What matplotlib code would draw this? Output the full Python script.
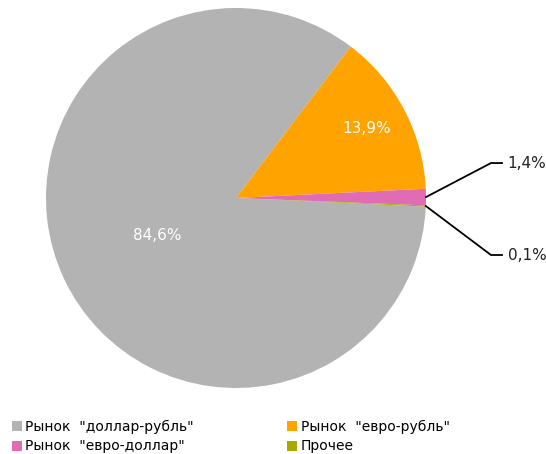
import matplotlib.pyplot as plt
import numpy as np
from matplotlib.lines import Line2D

labels = ['Рынок  "доллар-рубль"', 'Рынок  "евро-рубль"',
          'Рынок  "евро-доллар"', 'Прочее']
shares = [84.6, 13.9, 1.4, 0.1]
pct_text = ['84,6%', '13,9%', '1,4%', '0,1%']
colors = ['#B3B3B3', '#FFA300', '#E06CB4', '#A5AA00']

plt.rcParams['font.family'] = ['DejaVu Sans']

fig = plt.figure(figsize=(5.46, 4.54), dpi=100)
W, H = 546, 454
cx, cy, r = 236, 198, 190
ax = fig.add_axes([(cx - r) / W, (H - cy - r) / H, 2 * r / W, 2 * r / H])

wedges, _ = ax.pie(shares, colors=colors, startangle=-2.6, counterclock=False,
                   radius=1, wedgeprops=dict(linewidth=0))
ax.set_xlim(-1, 1)
ax.set_ylim(-1, 1)
ax.set_aspect('equal')

# inner labels
inner = {0: 0.46, 1: 0.78}
for i, d in inner.items():
    w = wedges[i]
    a = np.deg2rad((w.theta1 + w.theta2) / 2)
    ax.text(d * np.cos(a), d * np.sin(a), pct_text[i], color='white',
            fontsize=11, ha='center', va='center')

# outer labels with leader lines
outer = {2: 0.184, 3: -0.30}
for i, ly in outer.items():
    w = wedges[i]
    a = np.deg2rad((w.theta1 + w.theta2) / 2)
    x0, y0 = np.cos(a), np.sin(a)
    ax.plot([x0, 1.342, 1.40], [y0, ly, ly], color='black', lw=1.3,
            clip_on=False, solid_joinstyle='miter')
    ax.text(1.43, ly, pct_text[i], fontsize=11, ha='left', va='center',
            color='#222222')

# legend is filled row by row in the reference
order = [0, 2, 1, 3]
handles = [Line2D([], [], marker='s', linestyle='none', markersize=7.5,
                  markerfacecolor=colors[i], markeredgewidth=0) for i in order]
fig.legend(handles, [labels[i] for i in order], loc='upper left',
           bbox_to_anchor=(0.0, 1 - 410 / H), ncol=2, frameon=False,
           fontsize=10, handletextpad=0.1, handlelength=1.0,
           columnspacing=6.6, labelspacing=0.4, borderaxespad=0.3)

fig.savefig('out.png', dpi=100)
